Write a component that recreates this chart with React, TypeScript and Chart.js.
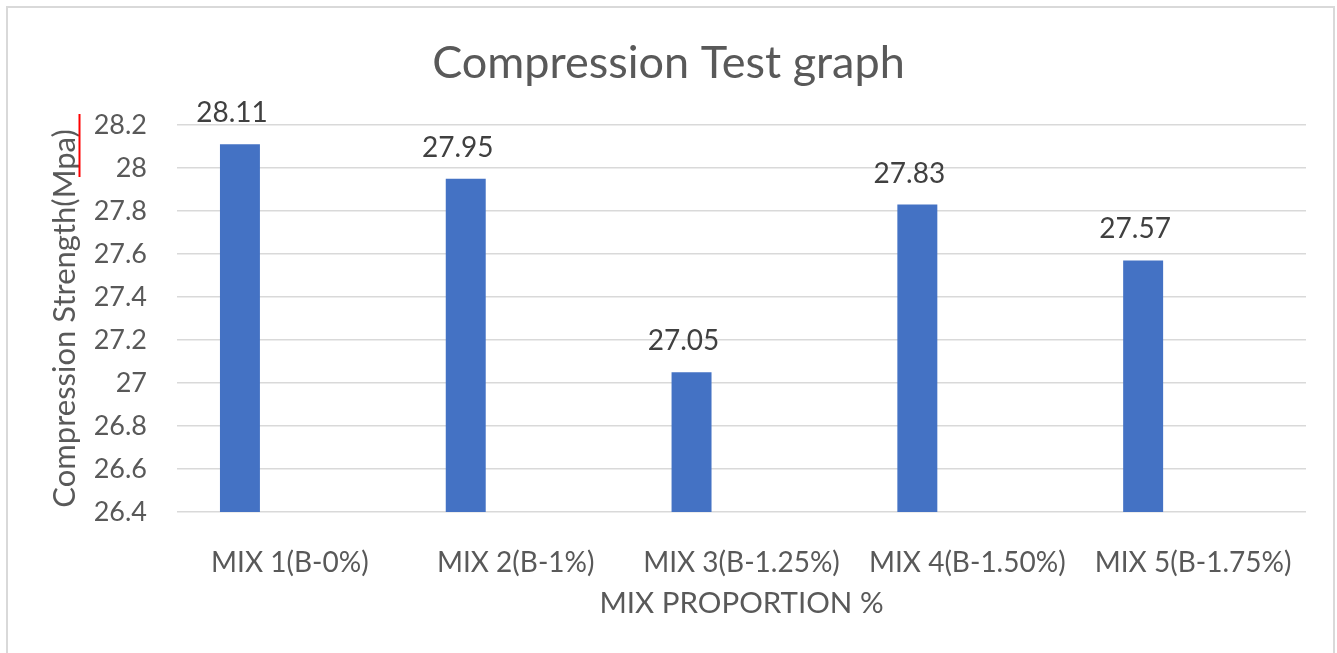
import React, { useEffect, useRef } from "react";
import { Chart, registerables } from "chart.js";

Chart.register(...registerables);

const categories = [
  "MIX 1(B-0%)",
  "MIX 2(B-1%)",
  "MIX 3(B-1.25%)",
  "MIX 4(B-1.50%)",
  "MIX 5(B-1.75%)",
];
const strengthValues = [28.11, 27.95, 27.05, 27.83, 27.57];
const emptySeries = [null, null, null, null, null];
const yMin = 26.4;
const yMax = 28.2;
const yStep = 0.2;

const chartTitle = "Compression Test graph";
const xTitle = "MIX PROPORTION %";
const yTitle = "Compression Strength(Mpa)";

const FONT = "Lato";
const TEXT = "#595959";

const dataLabelPlugin = {
  id: "dataLabels",
  afterDatasetsDraw(chart: any) {
    const ctx = chart.ctx;
    const meta = chart.getDatasetMeta(0);
    ctx.save();
    ctx.font = `28px ${FONT}`;
    ctx.fillStyle = "#404040";
    ctx.textAlign = "center";
    ctx.textBaseline = "alphabetic";
    meta.data.forEach((bar: any, i: number) => {
      const v = chart.data.datasets[0].data[i];
      ctx.fillText(String(v), bar.x - 8, bar.y - 22);
    });
    ctx.restore();
  },
};

const squigglePlugin = {
  id: "squiggle",
  afterDraw(chart: any) {
    const ctx = chart.ctx;
    ctx.save();
    ctx.strokeStyle = "#ff0000";
    ctx.lineWidth = 2;
    ctx.beginPath();
    ctx.moveTo(79.5, 114);
    ctx.lineTo(79.5, 177);
    ctx.stroke();
    ctx.restore();
  },
};

export default function App() {
  const ref = useRef<HTMLCanvasElement>(null);

  useEffect(() => {
    document.body.style.margin = "0";
    const chart = new Chart(ref.current!, {
      type: "bar",
      data: {
        labels: categories,
        datasets: [
          {
            label: "Compression Strength",
            data: strengthValues,
            backgroundColor: "#4472C4",
            borderWidth: 0,
            categoryPercentage: 0.885,
            barPercentage: 0.4,
          },
          {
            label: "",
            data: emptySeries as any,
            backgroundColor: "#ED7D31",
            categoryPercentage: 0.885,
            barPercentage: 0.4,
          },
        ],
      },
      options: {
        animation: false,
        responsive: false,
        devicePixelRatio: 1,
        layout: { padding: 0 },
        plugins: {
          legend: { display: false },
          tooltip: { enabled: false },
          title: {
            display: true,
            text: chartTitle,
            color: TEXT,
            font: { family: FONT, size: 45, weight: "normal", lineHeight: 1.2 },
            padding: { top: 36, bottom: 35 },
          },
        },
        scales: {
          x: {
            grid: { display: false },
            border: { display: false },
            ticks: {
              color: TEXT,
              font: { family: FONT, size: 28 },
              padding: 26,
              maxRotation: 0,
              autoSkip: false,
            },
            title: {
              display: true,
              text: xTitle,
              color: TEXT,
              font: { family: FONT, size: 29.5 },
              padding: { top: 0, bottom: 32 },
            },
            afterFit(s: any) {
              s.height = 141;
            },
          },
          y: {
            min: yMin,
            max: yMax,
            grid: { color: "#d9d9d9", lineWidth: 1.5, drawTicks: false },
            border: { display: false },
            ticks: {
              stepSize: yStep,
              color: TEXT,
              font: { family: FONT, size: 27 },
              padding: 30,
              callback: (v: any) => String(Number(Number(v).toFixed(1))),
            },
            title: {
              display: true,
              text: yTitle,
              color: TEXT,
              font: { family: FONT, size: 31 },
              padding: { top: 46, bottom: 0 },
            },
            afterFit(s: any) {
              s.width = 177;
            },
          },
          yRight: {
            position: "right",
            display: true,
            min: 0,
            max: 1,
            grid: { display: false },
            border: { display: false },
            ticks: { display: false },
            afterFit(s: any) {
              s.width = 31;
            },
          },
        },
      },
      plugins: [dataLabelPlugin, squigglePlugin],
    });
    const fontsReady = (document as any).fonts;
    if (fontsReady && fontsReady.load) {
      Promise.all([
        fontsReady.load(`27px ${FONT}`),
        fontsReady.load(`45px ${FONT}`),
      ]).then(() => {
        try {
          chart.update();
        } catch (e) {}
      });
    }
    return () => chart.destroy();
  }, []);

  return (
    <div
      style={{
        position: "fixed",
        left: 0,
        top: 0,
        width: 1337,
        height: 653,
        overflow: "hidden",
        background: "#ffffff",
      }}
    >
      <canvas
        ref={ref}
        width={1337}
        height={653}
        style={{ position: "absolute", left: 0, top: 0, width: 1337, height: 653 }}
      />
      <div
        style={{
          position: "absolute",
          left: 6,
          top: 6,
          width: 1325,
          height: 700,
          border: "2px solid #d9d9d9",
          pointerEvents: "none",
        }}
      />
    </div>
  );
}
